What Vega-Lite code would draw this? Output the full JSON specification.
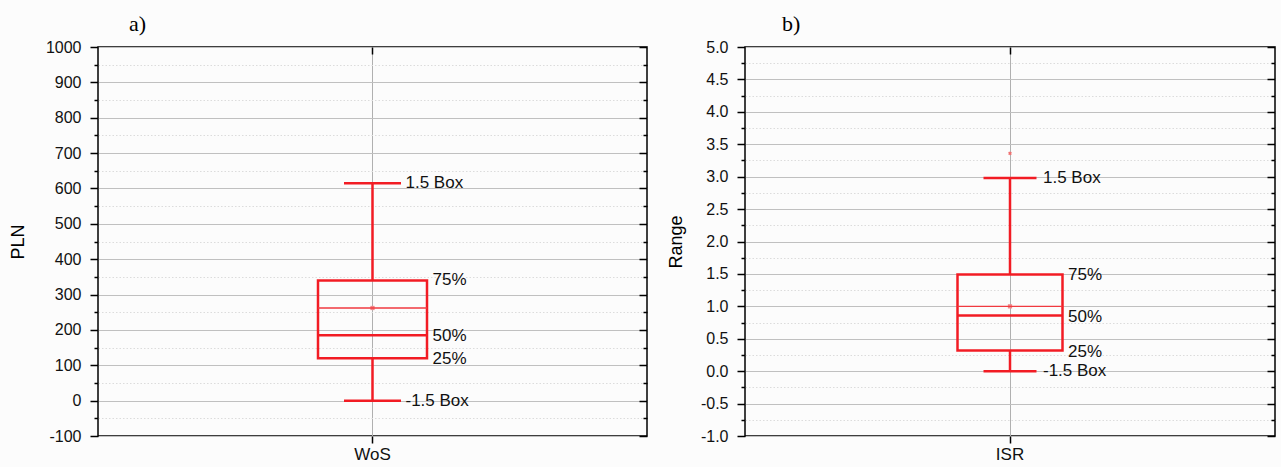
{
  "$schema": "https://vega.github.io/schema/vega-lite/v6.json",
  "background": "#fcfcfc",
  "padding": {"left": 8, "top": 12, "right": 6, "bottom": 4},
  "spacing": 17,
  "config": {
    "view": {"stroke": "#000000", "strokeWidth": 1.5},
    "title": {"font": "Liberation Serif", "fontSize": 22, "fontWeight": "normal", "color": "#000000", "anchor": "start", "frame": "group", "offset": 3}
  },
  "datasets": {
    "wosBox": [{"cat": "WoS", "min": 0, "q1": 120, "median": 185, "mean": 262, "q3": 340, "max": 615}],
    "wosLabels": [
      {"cat": "WoS", "label": "1.5 Box", "value": 615, "pos": "cap"},
      {"cat": "WoS", "label": "-1.5 Box", "value": 0, "pos": "cap"},
      {"cat": "WoS", "label": "75%", "value": 340, "pos": "box"},
      {"cat": "WoS", "label": "50%", "value": 183, "pos": "box"},
      {"cat": "WoS", "label": "25%", "value": 117, "pos": "box"}
    ],
    "isrBox": [{"cat": "ISR", "min": 0, "q1": 0.32, "median": 0.86, "mean": 1.0, "q3": 1.49, "max": 2.98}],
    "isrOutliers": [{"cat": "ISR", "value": 3.36}],
    "isrLabels": [
      {"cat": "ISR", "label": "1.5 Box", "value": 2.98, "pos": "cap"},
      {"cat": "ISR", "label": "-1.5 Box", "value": 0, "pos": "cap"},
      {"cat": "ISR", "label": "75%", "value": 1.49, "pos": "box"},
      {"cat": "ISR", "label": "50%", "value": 0.83, "pos": "box"},
      {"cat": "ISR", "label": "25%", "value": 0.3, "pos": "box"}
    ]
  },
  "hconcat": [
    {
      "width": 549,
      "height": 389,
      "title": {"text": "a)", "dx": 31},
      "resolve": {"axis": {"x": "independent", "y": "independent"}},
      "layer": [
        {
          "data": {"name": "wosBox"},
          "mark": {"type": "bar", "filled": false, "color": "#f21c24", "strokeWidth": 2.5, "size": 109},
          "encoding": {
            "x": {"field": "cat", "type": "nominal", "scale": {"type": "band", "paddingInner": 0, "paddingOuter": 0},
              "axis": {"orient": "bottom", "title": null, "domain": false, "bandPosition": 0.5, "tickSize": 7, "tickColor": "#000000", "tickWidth": 1.5,
                "labelFont": "Liberation Sans", "labelFontSize": 17, "labelColor": "#111111", "labelPadding": 3, "labelAngle": 0,
                "grid": true, "gridColor": "#b0b0b0", "gridWidth": 1}},
            "y": {"field": "q1", "type": "quantitative", "scale": {"domain": [-100, 1000], "nice": false, "zero": false},
              "axis": {"orient": "left", "title": "PLN", "titleFont": "Liberation Sans", "titleFontSize": 18, "titleFontWeight": "normal", "titleColor": "#000000", "titlePadding": 18,
                "values": [-100, -50, 0, 50, 100, 150, 200, 250, 300, 350, 400, 450, 500, 550, 600, 650, 700, 750, 800, 850, 900, 950, 1000],
                "format": "d", "labelExpr": "datum.value % 100 === 0 ? replace(datum.label, '\u2212', '-') : ''",
                "labelFont": "Liberation Sans", "labelFontSize": 16, "labelColor": "#111111", "labelPadding": 9, "labelOverlap": false,
                "domain": false, "tickColor": "#000000", "tickWidth": 1.5,
                "tickSize": {"condition": {"test": "datum.value % 100 === 0", "value": 8}, "value": 4},
                "grid": true, "gridWidth": 1,
                "gridColor": {"condition": {"test": "datum.value % 100 === 0", "value": "#c0c0c0"}, "value": "#dcdcdc"},
                "gridDash": {"condition": {"test": "datum.value % 100 === 0", "value": []}, "value": [1.5, 2]}}},
            "y2": {"field": "q3"}
          }
        },
        {
          "data": {"name": "wosBox"},
          "mark": {"type": "square", "size": 18, "color": "#f08a8a", "opacity": 1},
          "encoding": {
            "x": {"field": "cat", "type": "nominal",
              "axis": {"orient": "top", "title": null, "labels": false, "domain": false, "bandPosition": 0.5, "tickSize": -7, "tickColor": "#000000", "tickWidth": 1.5, "grid": false}},
            "y": {"field": "mean", "type": "quantitative",
              "axis": {"orient": "right", "title": null, "labels": false, "domain": false, "grid": false,
                "values": [-100, -50, 0, 50, 100, 150, 200, 250, 300, 350, 400, 450, 500, 550, 600, 650, 700, 750, 800, 850, 900, 950, 1000],
                "tickColor": "#000000", "tickWidth": 1.5,
                "tickSize": {"condition": {"test": "datum.value % 100 === 0", "value": -8}, "value": -4}}}
          }
        },
        {
          "data": {"name": "wosBox"},
          "mark": {"type": "rule", "color": "#f21c24", "strokeWidth": 2.5},
          "encoding": {
            "x": {"field": "cat", "type": "nominal", "axis": null},
            "y": {"field": "q3", "type": "quantitative", "axis": null},
            "y2": {"field": "max"}
          }
        },
        {
          "data": {"name": "wosBox"},
          "mark": {"type": "rule", "color": "#f21c24", "strokeWidth": 2.5},
          "encoding": {
            "x": {"field": "cat", "type": "nominal", "axis": null},
            "y": {"field": "min", "type": "quantitative", "axis": null},
            "y2": {"field": "q1"}
          }
        },
        {
          "data": {"name": "wosBox"},
          "mark": {"type": "tick", "color": "#f21c24", "thickness": 2.5, "size": 57, "opacity": 1},
          "encoding": {
            "x": {"field": "cat", "type": "nominal", "axis": null},
            "y": {"field": "max", "type": "quantitative", "axis": null}
          }
        },
        {
          "data": {"name": "wosBox"},
          "mark": {"type": "tick", "color": "#f21c24", "thickness": 2.5, "size": 57, "opacity": 1},
          "encoding": {
            "x": {"field": "cat", "type": "nominal", "axis": null},
            "y": {"field": "min", "type": "quantitative", "axis": null}
          }
        },
        {
          "data": {"name": "wosBox"},
          "mark": {"type": "tick", "color": "#f21c24", "thickness": 2.5, "size": 109, "opacity": 1},
          "encoding": {
            "x": {"field": "cat", "type": "nominal", "axis": null},
            "y": {"field": "median", "type": "quantitative", "axis": null}
          }
        },
        {
          "data": {"name": "wosBox"},
          "mark": {"type": "tick", "color": "#f03a40", "thickness": 1.3, "size": 109, "opacity": 1},
          "encoding": {
            "x": {"field": "cat", "type": "nominal", "axis": null},
            "y": {"field": "mean", "type": "quantitative", "axis": null}
          }
        },
        {
          "data": {"name": "wosLabels"},
          "transform": [{"filter": "datum.pos === 'cap'"}],
          "mark": {"type": "text", "align": "left", "baseline": "middle", "dx": 33, "font": "Liberation Sans", "fontSize": 17, "color": "#111111"},
          "encoding": {
            "x": {"field": "cat", "type": "nominal", "axis": null},
            "y": {"field": "value", "type": "quantitative", "axis": null},
            "text": {"field": "label"}
          }
        },
        {
          "data": {"name": "wosLabels"},
          "transform": [{"filter": "datum.pos === 'box'"}],
          "mark": {"type": "text", "align": "left", "baseline": "middle", "dx": 60, "font": "Liberation Sans", "fontSize": 17, "color": "#111111"},
          "encoding": {
            "x": {"field": "cat", "type": "nominal", "axis": null},
            "y": {"field": "value", "type": "quantitative", "axis": null},
            "text": {"field": "label"}
          }
        }
      ]
    },
    {
      "width": 530,
      "height": 389,
      "title": {"text": "b)", "dx": 37},
      "resolve": {"axis": {"x": "independent", "y": "independent"}},
      "layer": [
        {
          "data": {"name": "isrBox"},
          "mark": {"type": "bar", "filled": false, "color": "#f21c24", "strokeWidth": 2.5, "size": 105},
          "encoding": {
            "x": {"field": "cat", "type": "nominal", "scale": {"type": "band", "paddingInner": 0, "paddingOuter": 0},
              "axis": {"orient": "bottom", "title": null, "domain": false, "bandPosition": 0.5, "tickSize": 7, "tickColor": "#000000", "tickWidth": 1.5,
                "labelFont": "Liberation Sans", "labelFontSize": 17, "labelColor": "#111111", "labelPadding": 3, "labelAngle": 0,
                "grid": true, "gridColor": "#b0b0b0", "gridWidth": 1}},
            "y": {"field": "q1", "type": "quantitative", "scale": {"domain": [-1, 5], "nice": false, "zero": false},
              "axis": {"orient": "left", "title": "Range", "titleFont": "Liberation Sans", "titleFontSize": 18, "titleFontWeight": "normal", "titleColor": "#000000", "titlePadding": 15,
                "values": [-1, -0.75, -0.5, -0.25, 0, 0.25, 0.5, 0.75, 1, 1.25, 1.5, 1.75, 2, 2.25, 2.5, 2.75, 3, 3.25, 3.5, 3.75, 4, 4.25, 4.5, 4.75, 5],
                "format": ".1f", "labelExpr": "(datum.value * 2) % 1 === 0 ? replace(datum.label, '\u2212', '-') : ''",
                "labelFont": "Liberation Sans", "labelFontSize": 16, "labelColor": "#111111", "labelPadding": 9, "labelOverlap": false,
                "domain": false, "tickColor": "#000000", "tickWidth": 1.5,
                "tickSize": {"condition": {"test": "(datum.value * 2) % 1 === 0", "value": 8}, "value": 4},
                "grid": true, "gridWidth": 1,
                "gridColor": {"condition": {"test": "(datum.value * 2) % 1 === 0", "value": "#c0c0c0"}, "value": "#dcdcdc"},
                "gridDash": {"condition": {"test": "(datum.value * 2) % 1 === 0", "value": []}, "value": [1.5, 2]}}},
            "y2": {"field": "q3"}
          }
        },
        {
          "data": {"name": "isrBox"},
          "mark": {"type": "square", "size": 18, "color": "#f08a8a", "opacity": 1},
          "encoding": {
            "x": {"field": "cat", "type": "nominal",
              "axis": {"orient": "top", "title": null, "labels": false, "domain": false, "bandPosition": 0.5, "tickSize": -7, "tickColor": "#000000", "tickWidth": 1.5, "grid": false}},
            "y": {"field": "mean", "type": "quantitative",
              "axis": {"orient": "right", "title": null, "labels": false, "domain": false, "grid": false,
                "values": [-1, -0.75, -0.5, -0.25, 0, 0.25, 0.5, 0.75, 1, 1.25, 1.5, 1.75, 2, 2.25, 2.5, 2.75, 3, 3.25, 3.5, 3.75, 4, 4.25, 4.5, 4.75, 5],
                "tickColor": "#000000", "tickWidth": 1.5,
                "tickSize": {"condition": {"test": "(datum.value * 2) % 1 === 0", "value": -8}, "value": -4}}}
          }
        },
        {
          "data": {"name": "isrBox"},
          "mark": {"type": "rule", "color": "#f21c24", "strokeWidth": 2.5},
          "encoding": {
            "x": {"field": "cat", "type": "nominal", "axis": null},
            "y": {"field": "q3", "type": "quantitative", "axis": null},
            "y2": {"field": "max"}
          }
        },
        {
          "data": {"name": "isrBox"},
          "mark": {"type": "rule", "color": "#f21c24", "strokeWidth": 2.5},
          "encoding": {
            "x": {"field": "cat", "type": "nominal", "axis": null},
            "y": {"field": "min", "type": "quantitative", "axis": null},
            "y2": {"field": "q1"}
          }
        },
        {
          "data": {"name": "isrBox"},
          "mark": {"type": "tick", "color": "#f21c24", "thickness": 2.5, "size": 53, "opacity": 1},
          "encoding": {
            "x": {"field": "cat", "type": "nominal", "axis": null},
            "y": {"field": "max", "type": "quantitative", "axis": null}
          }
        },
        {
          "data": {"name": "isrBox"},
          "mark": {"type": "tick", "color": "#f21c24", "thickness": 2.5, "size": 53, "opacity": 1},
          "encoding": {
            "x": {"field": "cat", "type": "nominal", "axis": null},
            "y": {"field": "min", "type": "quantitative", "axis": null}
          }
        },
        {
          "data": {"name": "isrBox"},
          "mark": {"type": "tick", "color": "#f21c24", "thickness": 2.5, "size": 105, "opacity": 1},
          "encoding": {
            "x": {"field": "cat", "type": "nominal", "axis": null},
            "y": {"field": "median", "type": "quantitative", "axis": null}
          }
        },
        {
          "data": {"name": "isrBox"},
          "mark": {"type": "tick", "color": "#f03a40", "thickness": 1.3, "size": 105, "opacity": 1},
          "encoding": {
            "x": {"field": "cat", "type": "nominal", "axis": null},
            "y": {"field": "mean", "type": "quantitative", "axis": null}
          }
        },
        {
          "data": {"name": "isrOutliers"},
          "mark": {"type": "point", "shape": "cross", "angle": 45, "size": 14, "filled": true, "color": "#f07070", "opacity": 1},
          "encoding": {
            "x": {"field": "cat", "type": "nominal", "axis": null},
            "y": {"field": "value", "type": "quantitative", "axis": null}
          }
        },
        {
          "data": {"name": "isrLabels"},
          "transform": [{"filter": "datum.pos === 'cap'"}],
          "mark": {"type": "text", "align": "left", "baseline": "middle", "dx": 33, "font": "Liberation Sans", "fontSize": 17, "color": "#111111"},
          "encoding": {
            "x": {"field": "cat", "type": "nominal", "axis": null},
            "y": {"field": "value", "type": "quantitative", "axis": null},
            "text": {"field": "label"}
          }
        },
        {
          "data": {"name": "isrLabels"},
          "transform": [{"filter": "datum.pos === 'box'"}],
          "mark": {"type": "text", "align": "left", "baseline": "middle", "dx": 58, "font": "Liberation Sans", "fontSize": 17, "color": "#111111"},
          "encoding": {
            "x": {"field": "cat", "type": "nominal", "axis": null},
            "y": {"field": "value", "type": "quantitative", "axis": null},
            "text": {"field": "label"}
          }
        }
      ]
    }
  ]
}
